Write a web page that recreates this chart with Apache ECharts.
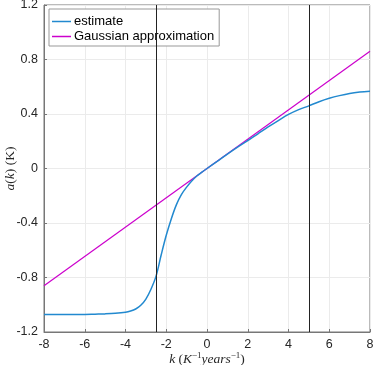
<!DOCTYPE html>
<html lang="en">
<head>
    <meta charset="UTF-8">
    <title>a(k) estimate</title>
    <script type="text/javascript" src="https://cdn.jsdelivr.net/npm/echarts@6/dist/echarts.min.js"></script>
    <style>
        html, body { margin: 0; padding: 0; background: #fff; }
    </style>
</head>
<body>
    <div id="chart" style="width:374px;height:365px;"></div>
</body>
<script type="text/javascript">
    var myChart = echarts.init(document.getElementById('chart'));

    // k values where the estimate was read off the picture
    var kValues = [-8, -7, -6, -5.5, -5, -4.5, -4, -3.75, -3.5, -3.25, -3, -2.75, -2.5, -2.25, -2,
        -1.75, -1.5, -1.25, -1, -0.75, -0.5, -0.25, 0, 0.5, 1, 1.5, 2, 2.5, 3, 3.5, 4, 4.5, 5,
        5.5, 6, 6.5, 7, 7.5, 8];
    var estimate = [-1.072, -1.072, -1.071, -1.069, -1.067, -1.063, -1.055, -1.046, -1.031, -1.004, -0.958, -0.886, -0.79, -0.635, -0.49,
        -0.368, -0.265, -0.19, -0.137, -0.092, -0.055, -0.027, 0, 0.053, 0.106, 0.157, 0.205, 0.255, 0.305, 0.352, 0.397, 0.432, 0.46,
        0.49, 0.515, 0.535, 0.551, 0.561, 0.567];
    // straight line: two end points
    var gaussK = [-8, 8];
    var gaussA = [-0.86, 0.86];
    // black vertical markers
    var markerK = [-2.5, 5];

    var fontSans = 'Liberation Sans';
    var fontSerif = 'Liberation Serif';

    function pairs(xs, ys) {
        var out = [];
        for (var i = 0; i < xs.length; i++) out.push([xs[i], ys[i]]);
        return out;
    }

    var options = {
        animation: false,
        backgroundColor: '#fff',
        grid: {
            left: 44, right: 4, top: 5, bottom: 33,
            containLabel: false,
            outerBoundsMode: 'none',
            show: true,
            borderColor: '#777',
            borderWidth: 1
        },
        legend: {
            orient: 'vertical',
            left: 49, top: 9,
            padding: [5, 5, 2, 3],
            itemGap: 0,
            itemWidth: 19,
            itemHeight: 1.5,
            icon: 'rect',
            backgroundColor: '#fff',
            borderColor: '#999',
            borderWidth: 1,
            borderRadius: 0,
            selectedMode: false,
            textStyle: { fontFamily: fontSans, fontSize: 13, color: '#000', lineHeight: 15, padding: [0, 0, 0, -2] },
            data: ['estimate', 'Gaussian approximation']
        },
        xAxis: {
            type: 'value',
            min: -8, max: 8, interval: 2,
            axisLine: { show: true, onZero: false, lineStyle: { color: '#777' } },
            axisTick: { show: true, inside: true, length: 3, lineStyle: { color: '#777' } },
            splitLine: { show: true, lineStyle: { color: '#ebebeb' } },
            axisLabel: { fontFamily: fontSans, fontSize: 12.5, color: '#262626', margin: 6 },
            name: '{i|k} {r|(}{i|K}{s|−1}{i|years}{s|−1}{r|)}',
            nameLocation: 'middle',
            nameGap: 19,
            nameMoveOverlap: false,
            nameTextStyle: {
                rich: {
                    i: { fontFamily: fontSerif, fontStyle: 'italic', fontSize: 13.5, color: '#262626' },
                    r: { fontFamily: fontSerif, fontSize: 13.5, color: '#262626' },
                    s: { fontFamily: fontSerif, fontSize: 9, color: '#262626', verticalAlign: 'top', padding: [0, 0, 7, 0] }
                }
            }
        },
        yAxis: {
            type: 'value',
            min: -1.2, max: 1.2, interval: 0.4,
            axisLine: { show: true, onZero: false, lineStyle: { color: '#777' } },
            axisTick: { show: true, inside: true, length: 3, lineStyle: { color: '#777' } },
            splitLine: { show: true, lineStyle: { color: '#ebebeb' } },
            axisLabel: {
                fontFamily: fontSans, fontSize: 12.5, color: '#262626', margin: 6,
                formatter: function (v) {
                    var r = Math.round(v * 10) / 10;
                    return r === 0 ? '0' : r.toFixed(1);
                }
            },
            name: '{i|a}{r|(}{i|k}{r|) (K)}',
            nameLocation: 'middle',
            nameGap: 27,
            nameMoveOverlap: false,
            nameTextStyle: {
                rich: {
                    i: { fontFamily: fontSerif, fontStyle: 'italic', fontSize: 13.5, color: '#262626' },
                    r: { fontFamily: fontSerif, fontSize: 13.5, color: '#262626' }
                }
            }
        },
        series: [
            {
                name: 'estimate',
                type: 'line',
                smooth: 0.35,
                symbol: 'none',
                color: '#2289cf',
                lineStyle: { width: 1.5, color: '#2289cf' },
                data: pairs(kValues, estimate),
                z: 3
            },
            {
                name: 'Gaussian approximation',
                type: 'line',
                symbol: 'none',
                color: '#cc00cc',
                lineStyle: { width: 1.2, color: '#cc00cc' },
                data: pairs(gaussK, gaussA),
                z: 2,
                markLine: {
                    silent: true,
                    symbol: 'none',
                    label: { show: false },
                    lineStyle: { color: '#222', width: 1, type: 'solid' },
                    data: markerK.map(function (k) { return { xAxis: k }; })
                }
            }
        ]
    };
    myChart.setOption(options);
</script>
</html>
